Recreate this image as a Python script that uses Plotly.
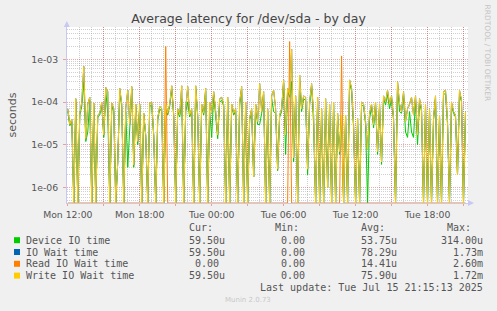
import pandas as pd
import plotly.graph_objects as go

# ---------------- data (microseconds, 10-minute samples) ----------------
start_time = "2025-07-14 12:00"
sample_step = "10min"

device_us = [
    60, 28, 35, 0, 100, 0, 50, 80, 300, 12, 20, 110, 0, 80, 0, 45, 50, 85, 15, 180,
    54, 0, 80, 60, 0, 4, 180, 75, 0, 60, 3, 28, 200, 3, 75, 10, 80, 0, 50, 15,
    0, 80, 85, 15, 0, 38, 70, 60, 0, 80, 50, 80, 200, 45, 0, 60, 45, 120, 0, 60,
    100, 45, 60, 0, 200, 45, 0, 80, 50, 180, 0, 60, 15, 150, 50, 14, 100, 110, 80, 0,
    110, 0, 80, 50, 60, 0, 85, 200, 0, 85, 0, 38, 60, 1.8, 80, 30, 30, 55, 150, 0,
    60, 0, 120, 60, 55, 2.5, 45, 60, 280, 6, 180, 130, 300, 4, 120, 0, 300, 60, 120, 110,
    2, 85, 240, 30, 0, 110, 0, 60, 0, 100, 1, 80, 0, 85, 0, 50, 6, 45, 0, 45,
    0, 280, 180, 25, 0, 38, 0, 85, 80, 30, 0, 40, 80, 25, 85, 6, 80, 3.5, 120, 85,
    150, 70, 120, 38, 0, 260, 60, 55, 150, 20, 15, 60, 20, 15, 110, 10, 100, 60, 0, 80,
    0, 60, 0, 38, 120, 0, 45, 0, 150, 160, 30, 0, 85, 55, 45, 2, 160, 100, 0, 59.5,
]

iowait_us = [
    70, 30, 40, 0, 120, 0, 55, 100, 680, 14, 90, 130, 0, 95, 0, 50, 55, 100, 17, 220,
    175, 0, 95, 70, 0, 4, 210, 90, 0, 70, 190, 30, 230, 3.4, 90, 12, 90, 0, 55, 17,
    0, 95, 100, 17, 0, 42, 80, 70, 0, 90, 55, 90, 240, 50, 0, 70, 50, 240, 0, 70,
    230, 50, 70, 0, 240, 50, 0, 90, 55, 210, 0, 100, 55, 175, 60, 17, 120, 130, 90, 0,
    130, 0, 90, 55, 70, 0, 100, 230, 0, 100, 0, 42, 70, 1.8, 90, 35, 270, 60, 175, 0,
    70, 0, 140, 190, 70, 2.7, 50, 70, 330, 17, 210, 150, 1730, 5, 140, 0, 430, 70, 140, 130,
    2.7, 100, 270, 50, 0, 130, 0, 70, 0, 120, 1, 90, 0, 100, 0, 55, 7, 50, 0, 50,
    0, 330, 210, 30, 0, 42, 0, 100, 90, 35, 8, 55, 90, 30, 100, 7, 90, 4, 140, 100,
    190, 90, 140, 42, 0, 300, 90, 60, 175, 35, 70, 90, 130, 50, 140, 17, 120, 70, 0, 90,
    0, 70, 0, 42, 140, 0, 50, 0, 175, 190, 35, 0, 100, 60, 50, 2, 190, 110, 0, 59.5,
]

read_us = [
    0, 0, 0, 0, 0, 0, 0, 0, 0, 0, 0, 0, 0, 0, 0, 0, 0, 0, 0, 0,
    0, 0, 0, 0, 0, 0, 0, 0, 0, 0, 0, 0, 0, 0, 0, 0, 0, 0, 0, 0,
    0, 0, 0, 0, 0, 0, 0, 0, 0, 2000, 0, 0, 0, 0, 0, 0, 0, 0, 0, 0,
    0, 0, 0, 0, 0, 0, 0, 0, 0, 0, 0, 0, 0, 0, 0, 0, 0, 0, 0, 0,
    0, 0, 0, 0, 0, 0, 0, 0, 0, 0, 0, 0, 0, 0, 0, 0, 0, 0, 0, 0,
    0, 0, 0, 0, 0, 0, 0, 0, 0, 0, 0, 2600, 0, 0, 0, 0, 0, 0, 0, 0,
    0, 0, 0, 0, 0, 0, 0, 0, 0, 0, 0, 0, 0, 0, 0, 0, 0, 1200, 0, 0,
    0, 0, 0, 0, 0, 0, 0, 0, 0, 0, 0, 0, 0, 0, 0, 0, 0, 0, 0, 0,
    0, 0, 0, 0, 0, 0, 0, 0, 0, 0, 0, 0, 0, 0, 0, 0, 0, 0, 0, 0,
    0, 0, 0, 0, 0, 0, 0, 0, 0, 0, 0, 0, 0, 0, 0, 0, 0, 0, 0, 0,
]

write_us = [
    70, 30, 40, 0, 120, 0, 55, 100, 680, 14, 90, 130, 0, 95, 0, 50, 55, 100, 17, 220,
    175, 0, 95, 70, 0, 4, 210, 90, 0, 70, 190, 30, 230, 3.4, 90, 12, 90, 0, 55, 17,
    0, 95, 100, 17, 0, 42, 80, 70, 0, 90, 55, 90, 240, 50, 0, 70, 50, 240, 0, 70,
    230, 50, 70, 0, 240, 50, 0, 90, 55, 210, 0, 100, 55, 175, 60, 17, 120, 130, 90, 0,
    130, 0, 90, 55, 70, 0, 100, 230, 0, 100, 0, 42, 70, 1.8, 90, 35, 270, 60, 175, 0,
    70, 0, 140, 190, 70, 2.7, 50, 70, 330, 17, 210, 150, 1720, 5, 140, 0, 430, 70, 140, 130,
    2.7, 100, 270, 50, 0, 130, 0, 70, 0, 120, 1, 90, 0, 100, 0, 55, 7, 50, 0, 50,
    0, 330, 210, 30, 0, 42, 0, 100, 90, 35, 8, 55, 90, 30, 100, 7, 90, 4, 140, 100,
    190, 90, 140, 42, 0, 300, 90, 60, 175, 35, 70, 90, 130, 50, 140, 17, 120, 70, 0, 90,
    0, 70, 0, 42, 140, 0, 50, 0, 175, 190, 35, 0, 100, 60, 50, 2, 190, 110, 0, 59.5,
]

series_names = ["Device IO time", "IO Wait time", "Read IO Wait time", "Write IO Wait time"]
series_colors = ["#00cc00", "#0066b3", "#ff8000", "#ffcc00"]
cur_text = ["59.50u", "59.50u", "0.00", "59.50u"]
min_text = ["0.00", "0.00", "0.00", "0.00"]
avg_text = ["53.75u", "78.29u", "14.41u", "75.90u"]
max_text = ["314.00u", "1.73m", "2.60m", "1.72m"]

ytick_vals = [1e-6, 1e-5, 1e-4, 1e-3]
ytick_text = ["1e-06", "1e-05", "1e-04", "1e-03"]
xtick_text = ["Mon 12:00", "", "Mon 18:00", "", "Tue 00:00", "", "Tue 06:00", "",
              "Tue 12:00", "", "Tue 18:00", ""]

title_text = "Average latency for /dev/sda - by day"
last_update = "Last update: Tue Jul 15 21:15:13 2025"

# ---------------- geometry ----------------
W, H = 497, 311
L, R, T, B = 67, 468, 27, 203
Y_LOG_RANGE = [-6.357, -2.245]
X_RANGE = ["2025-07-14 11:56", "2025-07-15 21:22:30"]
floor_val = 10 ** Y_LOG_RANGE[0]

GRID_MAJOR = "rgba(222,60,60,0.45)"
GRID_MINOR = "rgba(150,150,150,0.45)"
TXT = "#555555"
AXIS = "#c8c8f4"


def px(x):
    return (x - L) / (R - L)


def py(y):
    return (B - y) / (B - T)


times = pd.date_range(start_time, periods=len(device_us), freq=sample_step)


def to_seconds(vals):
    # zero values are drawn on the bottom edge of the log axis, like rrdtool
    return [v * 1e-6 if v > 0 else floor_val for v in vals]


fig = go.Figure()
for name, color, vals in zip(series_names, series_colors,
                             [device_us, iowait_us, read_us, write_us]):
    fig.add_trace(go.Scatter(x=times, y=to_seconds(vals), mode="lines", name=name,
                             line=dict(color=color, width=1), showlegend=False,
                             hoverinfo="skip"))

xtick_vals = pd.date_range("2025-07-14 12:00", periods=len(xtick_text), freq="3h")
yminor = [k * 10 ** d for d in range(-7, -1) for k in range(2, 10)]

fig.update_layout(
    width=W, height=H,
    margin=dict(l=L, r=W - R, t=T, b=H - B, pad=0),
    paper_bgcolor="#f0f0f0", plot_bgcolor="#ffffff",
    title=dict(text=title_text, x=0.5, xref="container", xanchor="center",
               y=1 - 19 / H, yref="container", yanchor="middle",
               font=dict(family="DejaVu Sans", size=12.5, color="#444444")),
    xaxis=dict(type="date", range=X_RANGE, tickmode="array",
               tickvals=list(xtick_vals), ticktext=xtick_text,
               showgrid=True, gridcolor=GRID_MAJOR, griddash="1px,1px", gridwidth=1,
               ticks="outside", ticklen=2, tickcolor=GRID_MAJOR,
               showline=True, linecolor=AXIS, linewidth=1, zeroline=False,
               tickfont=dict(family="DejaVu Sans", size=9.3, color=TXT),
               ticklabelstandoff=1,
               minor=dict(tick0="2025-07-14 12:00", dtick=3600000, showgrid=True,
                          gridcolor=GRID_MINOR, griddash="1px,1px", gridwidth=1,
                          ticks="")),
    yaxis=dict(type="log", range=Y_LOG_RANGE, tickmode="array",
               tickvals=ytick_vals, ticktext=ytick_text,
               showgrid=True, gridcolor=GRID_MAJOR, griddash="1px,1px", gridwidth=1,
               ticks="outside", ticklen=3, tickcolor=GRID_MAJOR,
               showline=True, linecolor=AXIS, linewidth=1, zeroline=False,
               tickfont=dict(family="DejaVu Sans", size=9.3, color=TXT),
               ticklabelstandoff=3,
               minor=dict(tickmode="array", tickvals=yminor, showgrid=True,
                          gridcolor=GRID_MINOR, griddash="1px,1px", gridwidth=1,
                          ticks="")),
)

annotations = []


def ann(text, x, y, xanchor="left", size=10, family="DejaVu Sans Mono",
        color=TXT, angle=0):
    annotations.append(dict(text=text, xref="paper", yref="paper", x=px(x), y=py(y),
                            xanchor=xanchor, yanchor="middle", showarrow=False,
                            textangle=angle, borderpad=0, borderwidth=0,
                            font=dict(family=family, size=size, color=color)))


# y axis title
ann("seconds", 11.5, 115, xanchor="center", size=11, family="DejaVu Sans", angle=-90)
# watermark on the right
ann("RRDTOOL / TOBI OETIKER", 487.5, 53, xanchor="center", size=7.5,
    family="DejaVu Sans", color="#c4c4c4", angle=90)

# legend table
CW = 5.94
col_right = [225.3, 311.3, 396.7, 482.7]
headers = ["Cur:", "Min:", "Avg:", "Max:"]
header_y = 227.7
row_y = [240.2, 252.0, 263.8, 275.6]
for cr, h in zip(col_right, headers):
    ann(h, cr - 2 * CW, header_y, xanchor="right")

shapes = []
for k, name in enumerate(series_names):
    yc = row_y[k]
    shapes.append(dict(type="rect", xref="paper", yref="paper",
                       x0=px(14), x1=px(20), y0=py(yc + 3), y1=py(yc - 3),
                       fillcolor=series_colors[k], line=dict(width=0)))
    ann(name, 26.3, yc)
    for cr, col in zip(col_right, [cur_text, min_text, avg_text, max_text]):
        s = col[k]
        right = cr if s[-1].isalpha() else cr - CW
        ann(s, right, yc, xanchor="right")

ann(last_update, 482.7, 287.6, xanchor="right")
ann("Munin 2.0.73", 248, 300, xanchor="center", size=7, family="DejaVu Sans",
    color="#c8c8c8")

# axis arrows
shapes.append(dict(type="path", xref="paper", yref="paper",
                   path=f"M {px(63.8)},{py(27)} L {px(69.8)},{py(27)} L {px(66.8)},{py(21)} Z",
                   fillcolor=AXIS, line=dict(width=0)))
shapes.append(dict(type="path", xref="paper", yref="paper",
                   path=f"M {px(468)},{py(200)} L {px(468)},{py(206)} L {px(474)},{py(203)} Z",
                   fillcolor=AXIS, line=dict(width=0)))

fig.update_layout(annotations=annotations, shapes=shapes)

fig.write_html("out.html")
